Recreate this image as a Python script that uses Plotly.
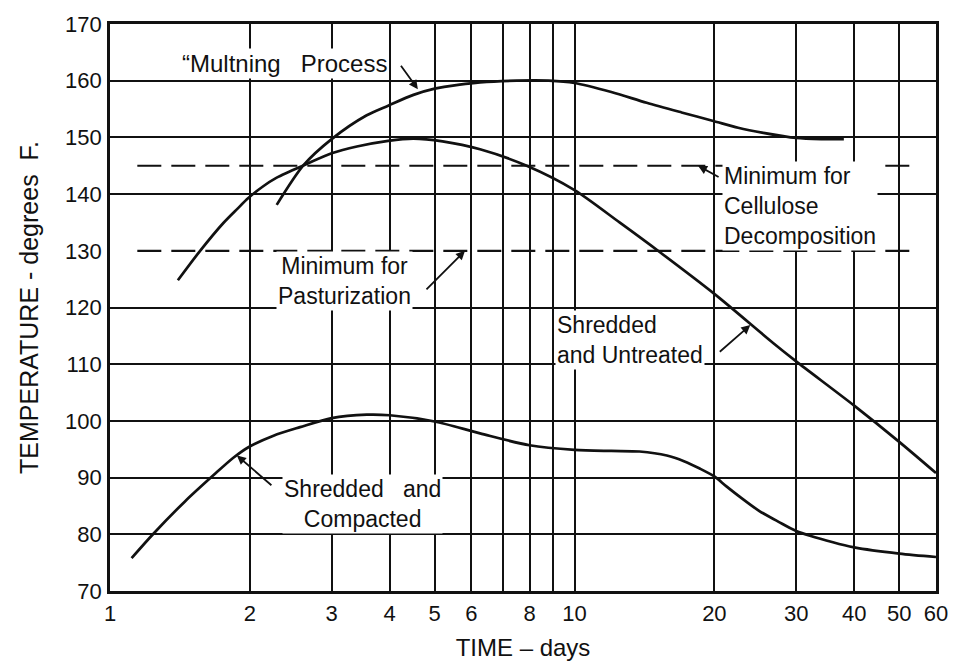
import numpy as np
import plotly.graph_objects as go

# ---------------- data ----------------
multning_days = [2.285, 2.61, 3.0, 3.57, 3.97, 4.5, 5.0, 5.66, 6.26, 7.5, 8.8, 10, 12, 14.3, 17, 19.9, 22.5, 25.5, 30, 34, 38]
multning_temp = [138.1, 145.1, 149.7, 153.9, 155.6, 157.5, 158.6, 159.3, 159.7, 160.0, 160.0, 159.6, 158.0, 156.1, 154.4, 152.9, 151.7, 150.8, 149.9, 149.7, 149.7]

untreated_days = [1.40, 1.56, 1.754, 1.88, 1.985, 2.13, 2.285, 2.65, 3.0, 3.4, 3.97, 4.5, 5.2, 6.26, 7.89, 10, 12.5, 15.3, 20, 26.8, 30, 40, 50, 60]
untreated_temp = [124.8, 129.9, 134.9, 137.4, 139.3, 141.3, 142.9, 145.3, 147.2, 148.4, 149.4, 149.8, 149.3, 147.9, 145.0, 140.7, 135.0, 129.7, 122.4, 113.7, 110.5, 102.7, 96.3, 90.8]

compacted_days = [1.113, 1.24, 1.45, 1.669, 1.843, 1.99, 2.249, 2.565, 3.0, 3.57, 4.0, 5.0, 6.26, 8, 10, 12, 13.8, 15.8, 17.2, 18.6, 20, 21.2, 22.7, 25, 27.5, 30, 36, 40, 50, 60]
compacted_temp = [75.8, 80.1, 85.8, 90.4, 93.5, 95.4, 97.4, 98.9, 100.5, 101.1, 101.0, 99.9, 97.8, 95.7, 94.9, 94.7, 94.6, 93.9, 92.9, 91.6, 90.2, 88.5, 86.6, 84.1, 82.2, 80.6, 78.6, 77.7, 76.6, 76.0]

cellulose_min = 145
pasteur_min = 130
threshold_days = [1.145, 53.5]

x_tickvals = [1, 2, 3, 4, 5, 6, 8, 10, 20, 30, 40, 50, 60]
x_ticktext = [str(v) for v in x_tickvals]
x_extra_grid = [7, 9]
y_tickvals = [70, 80, 90, 100, 110, 120, 130, 140, 150, 160, 170]
y_grid = [80, 90, 100, 110, 120, 140, 150, 160]

# ---------------- figure ----------------
INK = "#111111"
FONT = "Liberation Sans"

fig = go.Figure()
curve = dict(color=INK, width=2.7, shape="spline", smoothing=0.8)
fig.add_trace(go.Scatter(x=multning_days, y=multning_temp, mode="lines", line=curve, hoverinfo="skip"))
fig.add_trace(go.Scatter(x=untreated_days, y=untreated_temp, mode="lines", line=curve, hoverinfo="skip"))
fig.add_trace(go.Scatter(x=compacted_days, y=compacted_temp, mode="lines", line=curve, hoverinfo="skip"))
dash = dict(color=INK, width=2.2, dash="24px,10px")
fig.add_trace(go.Scatter(x=threshold_days, y=[cellulose_min] * 2, mode="lines", line=dash, hoverinfo="skip"))
fig.add_trace(go.Scatter(x=threshold_days, y=[pasteur_min] * 2, mode="lines", line=dash, hoverinfo="skip"))

L = np.log10
label_font = dict(family=FONT, size=23, color=INK)


def label(text, x, y, xanchor="center", align="center", size=23):
    fig.add_annotation(x=L(x), y=y, xref="x", yref="y", text=text, showarrow=False,
                       font=dict(label_font, size=size), bgcolor="white", borderpad=1,
                       xanchor=xanchor, yanchor="middle", align=align)


def arrow(x, y, ax, ay):
    fig.add_annotation(x=L(x), y=y, xref="x", yref="y", text="", showarrow=True,
                       ax=ax, ay=ay, arrowhead=2, arrowsize=1.0, arrowwidth=1.8,
                       arrowcolor=INK, standoff=0, startstandoff=0)


label("\u201cMultning\u00a0\u00a0\u00a0Process", 2.38, 163.0, size=24)
arrow(4.6, 158.5, -18, -25)

label("Minimum for<br>Pasturization", 3.2, 124.6)
arrow(5.81, 130, -40, 40)

label("Minimum\u00a0for<br>Cellulose<br>Decomposition", 20.8, 137.9, xanchor="left", align="left")
arrow(18.45, 145, 22, 12)

label("Shredded<br>and Untreated", 9.08, 114.3, xanchor="left", align="left")
arrow(23.9, 116.9, -32, 28)

label("Shredded\u00a0\u00a0\u00a0and<br>Compacted", 3.49, 85.3)
arrow(1.876, 93.9, 36, 31)

fig.update_layout(
    width=966, height=672,
    margin=dict(l=110, r=30, t=17, b=81, pad=0),
    paper_bgcolor="white", plot_bgcolor="white",
    showlegend=False,
    font=dict(family=FONT, color=INK, size=22),
)
fig.update_xaxes(
    type="log", range=[0, L(60)],
    tickmode="array", tickvals=x_tickvals, ticktext=x_ticktext,
    showgrid=True, gridcolor=INK, gridwidth=1.6,
    minor=dict(tickmode="array", tickvals=x_extra_grid, showgrid=True, gridcolor=INK, gridwidth=1.6),
    showline=True, linecolor=INK, linewidth=2.8, mirror=True,
    ticks="", tickfont=dict(size=22, family=FONT, color=INK), ticklabelstandoff=1,
    zeroline=False,
    title=dict(text="TIME \u2013 days" + "\u00a0" * 5, font=dict(size=24, family=FONT, color=INK), standoff=14),
)
fig.update_yaxes(
    range=[70, 170],
    tickmode="array", tickvals=y_tickvals,
    showgrid=False,
    minor=dict(tickmode="array", tickvals=y_grid, showgrid=True, gridcolor=INK, gridwidth=1.6),
    showline=True, linecolor=INK, linewidth=2.8, mirror=True,
    ticks="", tickfont=dict(size=22, family=FONT, color=INK), ticklabelstandoff=1,
    zeroline=False,
    title=dict(text="TEMPERATURE\u00a0-\u00a0degrees\u00a0\u00a0F.", font=dict(size=25, family=FONT, color=INK), standoff=20),
)

fig.write_html("out.html")
